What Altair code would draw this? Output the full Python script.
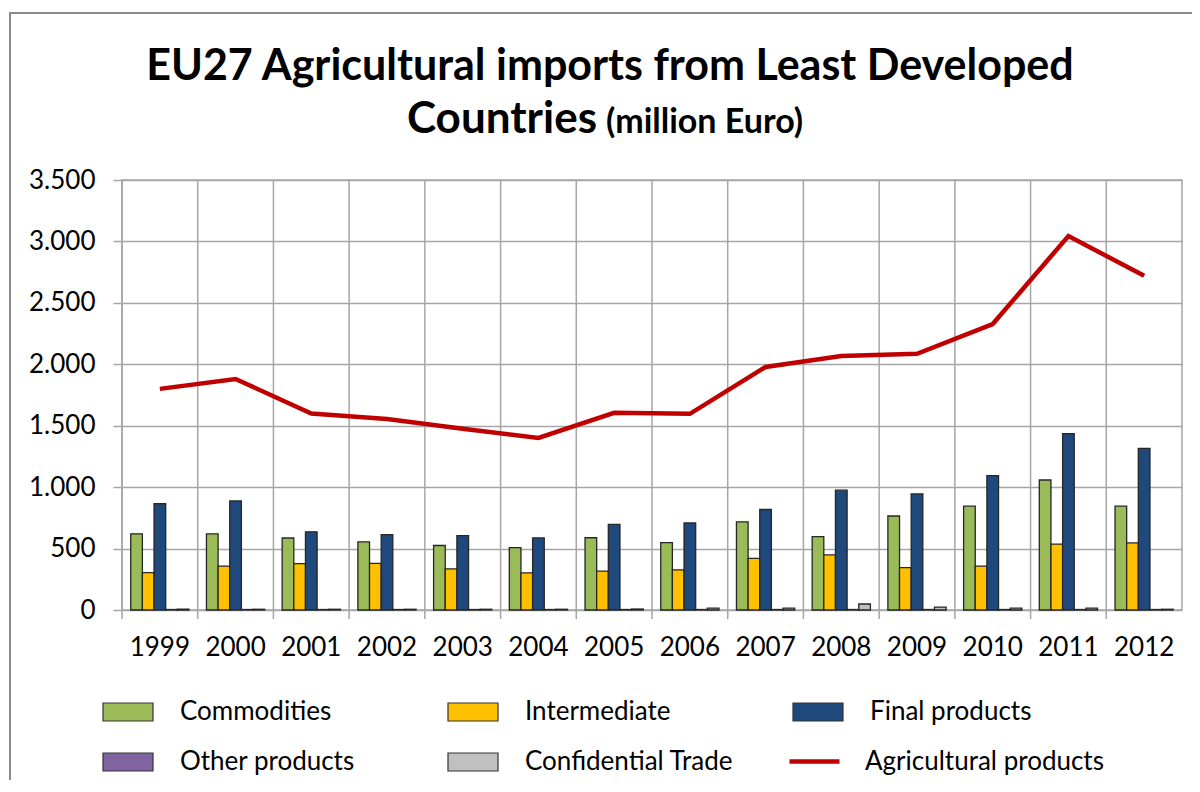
import altair as alt
import pandas as pd

years = [str(y) for y in range(1999, 2013)]
commodities = [620, 620, 586, 555, 525, 508, 588, 548, 718, 598, 765, 845, 1058, 845]
intermediate = [305, 357, 378, 380, 335, 302, 316, 327, 420, 448, 345, 357, 537, 546]
final_products = [865, 888, 636, 614, 606, 587, 697, 708, 818, 975, 945, 1093, 1435, 1315]
other_products = [4, 4, 4, 4, 4, 4, 4, 4, 4, 4, 4, 4, 4, 4]
confidential = [6, 6, 6, 6, 6, 6, 8, 15, 15, 49, 24, 15, 15, 6]
agricultural = [1800, 1880, 1600, 1555, 1475, 1400, 1605, 1597, 1978, 2068, 2085, 2328, 3044, 2720]

bar_series = ["Commodities", "Intermediate", "Final products", "Other products", "Confidential Trade"]
bar_colors = ["#9bbb59", "#ffc000", "#1f497d", "#8064a2", "#c0c0c0"]
line_series = ["Agricultural products"]
line_colors = ["#c00000"]

bar_rows = []
for name, vals in zip(bar_series, [commodities, intermediate, final_products, other_products, confidential]):
    for y, v in zip(years, vals):
        bar_rows.append({"year": y, "series": name, "value": v})
bars_df = pd.DataFrame(bar_rows)
line_df = pd.DataFrame({"year": years, "value": agricultural, "series": line_series[0]})
years_df = pd.DataFrame({"year": years})

W, H = 1060, 430
FONT = "Lato"
TFONT = "Lato"
RECT = "M-1,-0.36H1V0.36H-1Z"
LEG_Y = 506

xscale = alt.Scale(domain=years, paddingInner=0, paddingOuter=0)
yscale = alt.Scale(domain=[0, 3500], nice=False)
xaxis = alt.Axis(title=None, labelAngle=0, ticks=False, domain=False, grid=False,
                 labelPadding=24, labelFont=FONT, labelFontSize=26, labelColor="#000000")

grid_v = alt.Chart(years_df).mark_rule(color="#a6a6a6", strokeWidth=1.5).encode(
    x=alt.X("year:O", bandPosition=0, scale=xscale, axis=xaxis),
    y=alt.value(0),
    y2=alt.value(H + 9),
)

bars = alt.Chart(bars_df).mark_bar(stroke="#262626", strokeWidth=1.3).encode(
    x=alt.X("year:O", scale=xscale, axis=xaxis),
    xOffset=alt.XOffset("series:N", sort=bar_series,
                        scale=alt.Scale(domain=bar_series, paddingInner=0, paddingOuter=0.75)),
    y=alt.Y("value:Q", scale=yscale,
            axis=alt.Axis(title=None, values=list(range(0, 3501, 500)),
                          labelExpr="replace(format(datum.value, ','), ',', '.')",
                          grid=True, gridColor="#a6a6a6", gridWidth=1.5, domain=False,
                          tickSize=9, tickColor="#a6a6a6", tickWidth=1.5, labelPadding=18,
                          labelFont=FONT, labelFontSize=26, labelColor="#000000")),
    color=alt.Color(
        "series:N", sort=bar_series,
        scale=alt.Scale(domain=bar_series, range=bar_colors),
        legend=alt.Legend(
            orient="none", legendX=-20, legendY=LEG_Y, columns=3, direction="horizontal",
            title=None, symbolType=RECT, symbolSize=2500, symbolStrokeColor="#333333",
            symbolStrokeWidth=1.2, symbolOpacity=1, labelFont=FONT, labelFontSize=26,
            labelColor="#000000", labelOffset=26, labelLimit=500, rowPadding=11,
            columnPadding=56, gridAlign="all", padding=0),
    ),
)

line = alt.Chart(line_df).mark_line(strokeWidth=4.5).encode(
    x=alt.X("year:O", scale=xscale, axis=xaxis),
    y=alt.Y("value:Q", scale=yscale),
    stroke=alt.Stroke(
        "series:N",
        scale=alt.Scale(domain=line_series, range=line_colors),
        legend=alt.Legend(
            orient="none", legendX=665, legendY=LEG_Y + 48, title=None,
            symbolType="stroke", symbolSize=2500, symbolStrokeWidth=4.5,
            labelFont=FONT, labelFontSize=26, labelColor="#000000", labelOffset=23,
            labelLimit=500, padding=0),
    ),
)

one = alt.Data(values=[{}])
t1 = alt.Chart(one).mark_text(font=TFONT, fontWeight="bold", fontSize=43, align="center",
                              baseline="alphabetic", color="#000000").encode(
    x=alt.value(488), y=alt.value(-100), text=alt.value("EU27 Agricultural imports from Least Developed"))
t2 = alt.Chart(one).mark_text(font=TFONT, fontWeight="bold", fontSize=44, align="right",
                              baseline="alphabetic", color="#000000").encode(
    x=alt.value(475), y=alt.value(-47), text=alt.value("Countries"))
t3 = alt.Chart(one).mark_text(font=TFONT, fontWeight="bold", fontSize=34, align="left",
                              baseline="alphabetic", color="#000000").encode(
    x=alt.value(484), y=alt.value(-47), text=alt.value("(million Euro)"))
frame = alt.Chart(one).mark_rect(fill=None, stroke="#8c8c8c", strokeWidth=2).encode(
    x=alt.value(-112), y=alt.value(-167), x2=alt.value(W + 60), y2=alt.value(H + 400))

chart = alt.layer(frame, grid_v, bars, line, t1, t2, t3).resolve_scale(
    color="independent", stroke="independent"
).properties(
    width=W, height=H,
    autosize=alt.AutoSizeParams(type="none"),
    padding={"left": 114, "top": 172, "right": 10, "bottom": 170},
    background="white",
).configure_view(stroke="#a6a6a6", strokeWidth=1.5)

chart.save("out.html", embed_options={"renderer": "svg", "actions": False})
